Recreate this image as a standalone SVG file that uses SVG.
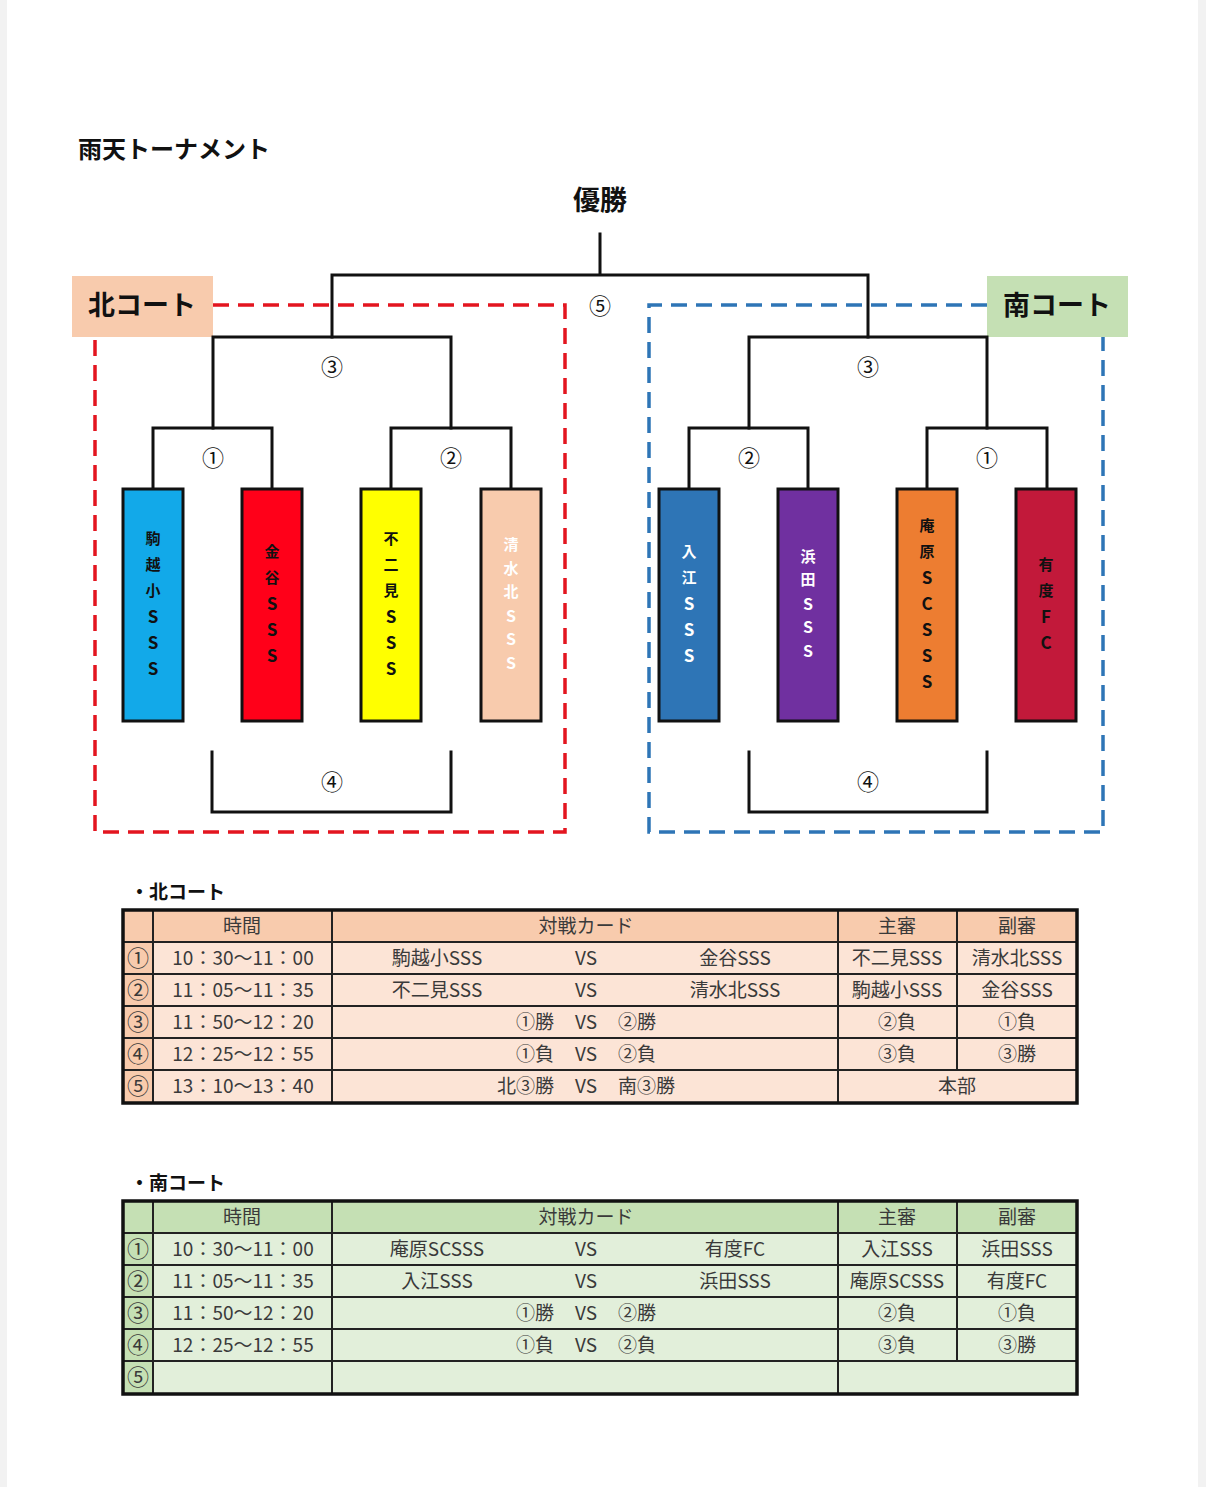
<svg xmlns="http://www.w3.org/2000/svg" width="1206" height="1487" viewBox="0 0 1206 1487">
<style>
.title{font-family:"Noto Sans CJK JP",sans-serif;font-weight:700;fill:#111}
.ln{stroke:#111;stroke-width:3;fill:none;stroke-linecap:square}
.num{font-family:"Noto Sans CJK JP",sans-serif;font-size:22px;fill:#111;text-anchor:middle}
.team{stroke:#111;stroke-width:3}
.tt{font-family:"Noto Sans CJK JP",sans-serif;font-weight:700;font-size:15px;text-anchor:middle}
.L{font-size:17px}
.td{font-family:"Noto Sans CJK JP",sans-serif;font-size:19px;fill:#3a3a3a;text-anchor:middle}
.cn{font-size:22px}
.tl{stroke:#222;stroke-width:2;fill:none}
.tb{stroke:#111;stroke-width:3.5;fill:none}
.dash-r{stroke:#e3151f;stroke-width:3.5;fill:none;stroke-dasharray:16 9}
.dash-b{stroke:#2e75b6;stroke-width:3.5;fill:none;stroke-dasharray:16 9}
</style>
<rect x="0" y="0" width="1206" height="1487" fill="#f2f2f2"/>
<rect x="7" y="0" width="1191" height="1487" fill="#ffffff"/>

<text class="title" x="78" y="158" font-size="24">雨天トーナメント</text>
<text class="title" x="600" y="210" font-size="27" text-anchor="middle">優勝</text>

<g id="north-court">
  <path class="dash-r" d="M213,305 H565 V832 H95 V337"/>
  <rect x="72" y="276" width="141" height="61" fill="#f8cbad"/>
  <text class="title" x="142" y="315" font-size="27" text-anchor="middle">北コート</text>
</g>
<g id="south-court">
  <path class="dash-b" d="M987,305 H649 V832 H1103 V337"/>
  <rect x="987" y="276" width="141" height="61" fill="#c5e0b4"/>
  <text class="title" x="1057" y="315" font-size="27" text-anchor="middle">南コート</text>
</g>

<g id="connectors">
  <path class="ln" d="M600,234 V275 M332,275 H868 M332,275 V337 M868,275 V337"/>
  <path class="ln" d="M213,428 V337 H451 V428"/>
  <path class="ln" d="M153,489 V428 H272 V489"/>
  <path class="ln" d="M391,489 V428 H511 V489"/>
  <path class="ln" d="M212,752 V812 H451 V752"/>
  <path class="ln" d="M749,428 V337 H987 V428"/>
  <path class="ln" d="M689,489 V428 H808 V489"/>
  <path class="ln" d="M927,489 V428 H1047 V489"/>
  <path class="ln" d="M749,752 V812 H987 V752"/>
</g>
<g id="match-labels">
  <text class="num" x="600" y="314">⑤</text>
  <text class="num" x="332" y="375">③</text>
  <text class="num" x="213" y="466">①</text>
  <text class="num" x="451" y="466">②</text>
  <text class="num" x="332" y="790">④</text>
  <text class="num" x="868" y="375">③</text>
  <text class="num" x="749" y="466">②</text>
  <text class="num" x="987" y="466">①</text>
  <text class="num" x="868" y="790">④</text>
</g>

<g id="team-komagoe">
  <rect class="team" x="123" y="489" width="60" height="232" fill="#12a9e9"/>
  <text class="tt" fill="#111"><tspan x="153" y="544">駒</tspan><tspan x="153" y="570">越</tspan><tspan x="153" y="596">小</tspan><tspan class="L" x="153" y="623">S</tspan><tspan class="L" x="153" y="649">S</tspan><tspan class="L" x="153" y="675">S</tspan></text>
</g>
<g id="team-kanaya">
  <rect class="team" x="242" y="489" width="60" height="232" fill="#ff0019"/>
  <text class="tt" fill="#111"><tspan x="272" y="557">金</tspan><tspan x="272" y="583">谷</tspan><tspan class="L" x="272" y="610">S</tspan><tspan class="L" x="272" y="636">S</tspan><tspan class="L" x="272" y="662">S</tspan></text>
</g>
<g id="team-fujimi">
  <rect class="team" x="361" y="489" width="60" height="232" fill="#ffff00"/>
  <text class="tt" fill="#111"><tspan x="391" y="544">不</tspan><tspan x="391" y="570">二</tspan><tspan x="391" y="596">見</tspan><tspan class="L" x="391" y="623">S</tspan><tspan class="L" x="391" y="649">S</tspan><tspan class="L" x="391" y="675">S</tspan></text>
</g>
<g id="team-shimizukita">
  <rect class="team" x="481" y="489" width="60" height="232" fill="#f8cbad"/>
  <text class="tt" fill="#ffffff" font-size="14"><tspan x="511" y="550">清</tspan><tspan x="511" y="574">水</tspan><tspan x="511" y="597">北</tspan><tspan x="511" y="622" font-size="16">S</tspan><tspan x="511" y="645" font-size="16">S</tspan><tspan x="511" y="669" font-size="16">S</tspan></text>
</g>
<g id="team-irie">
  <rect class="team" x="659" y="489" width="60" height="232" fill="#2e75b6"/>
  <text class="tt" fill="#ffffff"><tspan x="689" y="557">入</tspan><tspan x="689" y="583">江</tspan><tspan class="L" x="689" y="610">S</tspan><tspan class="L" x="689" y="636">S</tspan><tspan class="L" x="689" y="662">S</tspan></text>
</g>
<g id="team-hamada">
  <rect class="team" x="778" y="489" width="60" height="232" fill="#7030a0"/>
  <text class="tt" fill="#ffffff" font-size="14"><tspan x="808" y="562">浜</tspan><tspan x="808" y="585">田</tspan><tspan x="808" y="610" font-size="16">S</tspan><tspan x="808" y="633" font-size="16">S</tspan><tspan x="808" y="657" font-size="16">S</tspan></text>
</g>
<g id="team-ihara">
  <rect class="team" x="897" y="489" width="60" height="232" fill="#ed7d31"/>
  <text class="tt" fill="#111"><tspan x="927" y="531">庵</tspan><tspan x="927" y="557">原</tspan><tspan class="L" x="927" y="584">S</tspan><tspan class="L" x="927" y="610">C</tspan><tspan class="L" x="927" y="636">S</tspan><tspan class="L" x="927" y="662">S</tspan><tspan class="L" x="927" y="688">S</tspan></text>
</g>
<g id="team-udo">
  <rect class="team" x="1016" y="489" width="60" height="232" fill="#c2193a"/>
  <text class="tt" fill="#111"><tspan x="1046" y="570">有</tspan><tspan x="1046" y="596">度</tspan><tspan class="L" x="1046" y="623">F</tspan><tspan class="L" x="1046" y="649">C</tspan></text>
</g>

<g id="north-table">
  <text class="title" x="130" y="899" font-size="19">・北コート</text>
  <rect x="123" y="910" width="954" height="193" fill="#fce4d6"/>
  <rect x="123" y="910" width="954" height="32" fill="#f8cbad"/>
  <rect x="123" y="942" width="30" height="161" fill="#f8cbad"/>
  <path class="tl" d="M123,942 H1077 M123,974 H1077 M123,1006 H1077 M123,1038 H1077 M123,1070 H1077 M153,910 V1103 M332,910 V1103 M838,910 V1103 M957,910 V1070"/>
  <rect class="tb" x="123" y="910" width="954" height="193"/>
  <g class="td">
    <text x="242" y="933">時間</text><text x="586" y="933">対戦カード</text><text x="897" y="933">主審</text><text x="1017" y="933">副審</text>
    <text class="cn" x="138" y="966">①</text><text x="243" y="965">10：30〜11：00</text><text x="437" y="965">駒越小SSS</text><text x="586" y="965">VS</text><text x="735" y="965">金谷SSS</text><text x="897" y="965">不二見SSS</text><text x="1017" y="965">清水北SSS</text>
    <text class="cn" x="138" y="998">②</text><text x="243" y="997">11：05〜11：35</text><text x="437" y="997">不二見SSS</text><text x="586" y="997">VS</text><text x="735" y="997">清水北SSS</text><text x="897" y="997">駒越小SSS</text><text x="1017" y="997">金谷SSS</text>
    <text class="cn" x="138" y="1030">③</text><text x="243" y="1029">11：50〜12：20</text><text x="554" y="1029" text-anchor="end">①勝</text><text x="586" y="1029">VS</text><text x="618" y="1029" text-anchor="start">②勝</text><text x="897" y="1029">②負</text><text x="1017" y="1029">①負</text>
    <text class="cn" x="138" y="1062">④</text><text x="243" y="1061">12：25〜12：55</text><text x="554" y="1061" text-anchor="end">①負</text><text x="586" y="1061">VS</text><text x="618" y="1061" text-anchor="start">②負</text><text x="897" y="1061">③負</text><text x="1017" y="1061">③勝</text>
    <text class="cn" x="138" y="1094">⑤</text><text x="243" y="1093">13：10〜13：40</text><text x="554" y="1093" text-anchor="end">北③勝</text><text x="586" y="1093">VS</text><text x="618" y="1093" text-anchor="start">南③勝</text><text x="957" y="1093">本部</text>
  </g>
</g>

<g id="south-table">
  <text class="title" x="130" y="1190" font-size="19">・南コート</text>
  <rect x="123" y="1201" width="954" height="193" fill="#e2efda"/>
  <rect x="123" y="1201" width="954" height="32" fill="#c5e0b4"/>
  <rect x="123" y="1233" width="30" height="161" fill="#c5e0b4"/>
  <path class="tl" d="M123,1233 H1077 M123,1265 H1077 M123,1297 H1077 M123,1329 H1077 M123,1361 H1077 M153,1201 V1394 M332,1201 V1394 M838,1201 V1394 M957,1201 V1361"/>
  <rect class="tb" x="123" y="1201" width="954" height="193"/>
  <g class="td">
    <text x="242" y="1224">時間</text><text x="586" y="1224">対戦カード</text><text x="897" y="1224">主審</text><text x="1017" y="1224">副審</text>
    <text class="cn" x="138" y="1257">①</text><text x="243" y="1256">10：30〜11：00</text><text x="437" y="1256">庵原SCSSS</text><text x="586" y="1256">VS</text><text x="735" y="1256">有度FC</text><text x="897" y="1256">入江SSS</text><text x="1017" y="1256">浜田SSS</text>
    <text class="cn" x="138" y="1289">②</text><text x="243" y="1288">11：05〜11：35</text><text x="437" y="1288">入江SSS</text><text x="586" y="1288">VS</text><text x="735" y="1288">浜田SSS</text><text x="897" y="1288">庵原SCSSS</text><text x="1017" y="1288">有度FC</text>
    <text class="cn" x="138" y="1321">③</text><text x="243" y="1320">11：50〜12：20</text><text x="554" y="1320" text-anchor="end">①勝</text><text x="586" y="1320">VS</text><text x="618" y="1320" text-anchor="start">②勝</text><text x="897" y="1320">②負</text><text x="1017" y="1320">①負</text>
    <text class="cn" x="138" y="1353">④</text><text x="243" y="1352">12：25〜12：55</text><text x="554" y="1352" text-anchor="end">①負</text><text x="586" y="1352">VS</text><text x="618" y="1352" text-anchor="start">②負</text><text x="897" y="1352">③負</text><text x="1017" y="1352">③勝</text>
    <text class="cn" x="138" y="1385">⑤</text>
  </g>
</g>
</svg>
